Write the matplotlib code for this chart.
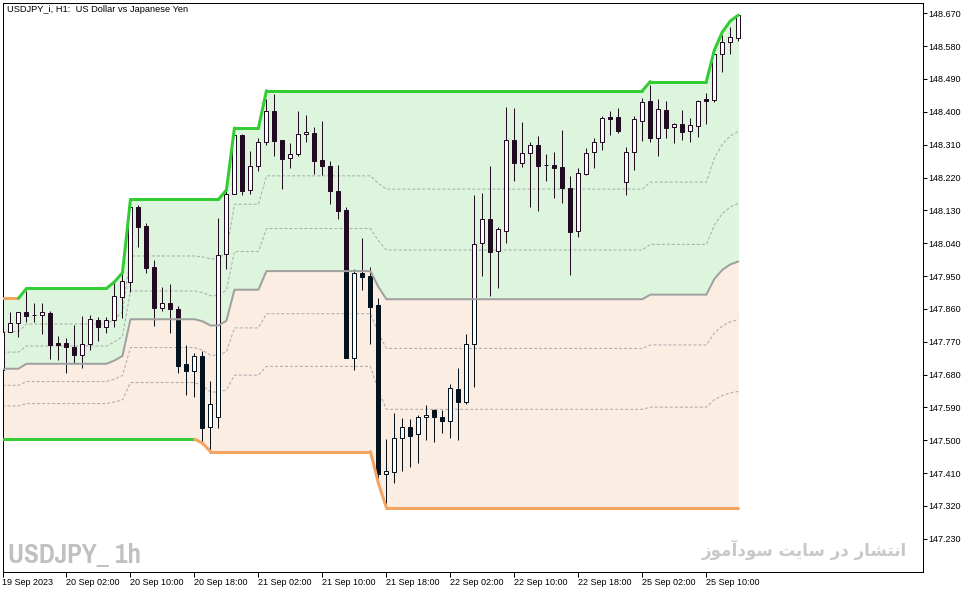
import numpy as np
import matplotlib
matplotlib.use("Agg")
import matplotlib.pyplot as plt
from matplotlib.collections import LineCollection
from matplotlib.patches import Polygon
from matplotlib import font_manager

# ---------------- data ----------------
title = "USDJPY_i, H1:  US Dollar vs Japanese Yen"
watermark = "USDJPY_ 1h"
# Persian text "انتشار در سایت سودآموز" in presentation forms, visual (LTR) order
site_text = "\uFEAF\uFEEE\uFEE3\uFE81\uFEA9\uFEEE\uFEB3 \uFE96\uFEF3\uFE8E\uFEB3 \uFEAD\uFEA9 \uFEAD\uFE8E\uFEB8\uFE98\uFEE7\uFE8D"

x_tick_bars = [0, 8, 16, 24, 32, 40, 48, 56, 64, 72, 80, 88]
x_tick_labels = ["19 Sep 2023", "20 Sep 02:00", "20 Sep 10:00", "20 Sep 18:00",
                 "21 Sep 02:00", "21 Sep 10:00", "21 Sep 18:00", "22 Sep 02:00",
                 "22 Sep 10:00", "22 Sep 18:00", "25 Sep 02:00", "25 Sep 10:00"]
price_ticks = [147.230, 147.320, 147.410, 147.500, 147.590, 147.680, 147.770,
               147.860, 147.950, 148.040, 148.130, 148.220, 148.310, 148.400,
               148.490, 148.580, 148.670]

opens = [147.692, 147.797, 147.821, 147.851, 147.843, 147.842, 147.848, 147.766, 147.766, 147.755,
         147.734, 147.763, 147.829, 147.811, 147.829, 147.892, 147.934, 148.138, 148.087, 147.974,
         147.863, 147.875, 147.860, 147.709, 147.690, 147.731, 147.535, 147.563, 148.010, 148.174,
         148.336, 148.185, 148.251, 148.316, 148.402, 148.323, 148.273, 148.284, 148.338, 148.341,
         148.268, 148.252, 148.183, 148.131, 147.726, 147.957, 147.951, 147.871, 147.407, 147.414,
         147.505, 147.535, 147.516, 147.563, 147.584, 147.563, 147.553, 147.640, 147.606, 147.763,
         148.040, 148.105, 148.019, 148.074, 148.323, 148.261, 148.286, 148.308, 148.253, 148.254,
         148.248, 148.190, 148.074, 148.230, 148.291, 148.316, 148.385, 148.385, 148.208, 148.289,
         148.376, 148.430, 148.329, 148.405, 148.358, 148.367, 148.348, 148.362, 148.434, 148.432,
         148.558, 148.591, 148.603]
highs = [147.802, 147.851, 147.851, 147.910, 147.875, 147.875, 147.854, 147.786, 147.779, 147.817,
         147.840, 147.843, 147.838, 147.838, 147.934, 147.957, 148.145, 148.145, 148.094, 147.994,
         147.921, 147.927, 147.868, 147.761, 147.738, 147.745, 147.662, 148.108, 148.190, 148.340,
         148.340, 148.293, 148.327, 148.435, 148.449, 148.323, 148.314, 148.402, 148.391, 148.359,
         148.375, 148.265, 148.254, 148.138, 147.969, 148.053, 147.976, 147.889, 147.503, 147.574,
         147.560, 147.558, 147.569, 147.597, 147.586, 147.583, 147.653, 147.697, 147.791, 148.172,
         148.177, 148.251, 148.083, 148.412, 148.410, 148.371, 148.318, 148.334, 148.284, 148.289,
         148.350, 148.224, 148.245, 148.300, 148.328, 148.389, 148.402, 148.410, 148.303, 148.389,
         148.439, 148.473, 148.434, 148.430, 148.370, 148.404, 148.382, 148.432, 148.451, 148.569,
         148.611, 148.633, 148.665]
lows = [147.687, 147.797, 147.783, 147.823, 147.823, 147.791, 147.723, 147.720, 147.685, 147.711,
        147.699, 147.747, 147.773, 147.795, 147.811, 147.836, 147.907, 148.030, 147.959, 147.814,
        147.855, 147.795, 147.683, 147.624, 147.618, 147.492, 147.471, 147.533, 147.968, 148.174,
        148.172, 148.176, 148.239, 148.309, 148.280, 148.188, 148.245, 148.280, 148.318, 148.230,
        148.227, 148.147, 148.106, 147.726, 147.692, 147.912, 147.764, 147.382, 147.315, 147.384,
        147.416, 147.427, 147.438, 147.501, 147.496, 147.521, 147.507, 147.501, 147.598, 147.647,
        147.950, 147.895, 147.918, 148.041, 148.210, 148.250, 148.140, 148.129, 148.210, 148.165,
        148.151, 147.953, 148.056, 148.227, 148.247, 148.295, 148.336, 148.343, 148.172, 148.241,
        148.321, 148.318, 148.280, 148.329, 148.314, 148.323, 148.316, 148.332, 148.367, 148.428,
        148.510, 148.558, 148.595]
closes = [147.797, 147.821, 147.851, 147.840, 147.842, 147.851, 147.761, 147.761, 147.755, 147.734,
          147.764, 147.831, 147.811, 147.829, 147.895, 147.936, 148.138, 148.085, 147.973, 147.863,
          147.875, 147.859, 147.704, 147.690, 147.731, 147.534, 147.598, 148.007, 148.174, 148.336,
          148.183, 148.251, 148.316, 148.402, 148.321, 148.271, 148.284, 148.338, 148.344, 148.266,
          148.252, 148.183, 148.129, 147.726, 147.957, 147.948, 147.866, 147.407, 147.416, 147.505,
          147.535, 147.512, 147.563, 147.568, 147.563, 147.553, 147.642, 147.606, 147.763, 148.037,
          148.105, 148.017, 148.078, 148.323, 148.261, 148.286, 148.308, 148.252, 148.253, 148.247,
          148.190, 148.071, 148.231, 148.286, 148.316, 148.382, 148.381, 148.347, 148.289, 148.379,
          148.428, 148.329, 148.407, 148.356, 148.367, 148.346, 148.364, 148.430, 148.430, 148.558,
          148.591, 148.604, 148.665]

# channel lines (read per bar)
upper = ([147.889] * 3 + [147.916] * 11 + [147.934, 147.959] + [148.160] * 12 + [148.186] +
         [148.356] * 4 + [148.458] * 48 + [148.483] * 8 + [148.569, 148.619, 148.649, 148.665])
lower = [147.503] * 25 + [147.492] + [147.469] * 21 + [147.382] + [147.315] * 45
# line colour state per bar: 1 = rising (green), 0 = falling (orange)
upper_dir = [0] * 3 + [1] * 90
lower_dir = [1] * 25 + [0] * 68
fib_levels = [0.236, 0.382, 0.618, 0.764]

# ---------------- style ----------------
GREEN = "#32CD32"
ORANGE = "#F4A460"
FILL_UP = "#DCF5DC"
FILL_DN = "#FCEDE3"
DARK_UP = "#230A23"
DARK_DN = "#03121C"
MID_C = "#A0A0A0"
DASH_C = "#AAAAAA"
PX = 0.72  # one pixel in points at 100 dpi

plt.rcParams['font.family'] = ['Liberation Sans', 'DejaVu Sans']

# look for an installed condensed / narrow bold face for the watermark
wm_prop = None
cands = []
for fe in font_manager.fontManager.ttflist:
    nm = (fe.name + " " + str(fe.fname)).lower()
    if ("condensed" in nm or "narrow" in nm or str(fe.stretch) in ("condensed", "semi-condensed", "extra-condensed")) \
            and ("bold" in nm or (isinstance(fe.weight, int) and fe.weight >= 700) or fe.weight == "bold"):
        if "italic" in nm or "oblique" in nm or fe.style != "normal":
            continue
        cands.append(fe.fname)
if cands:
    pref = sorted(cands, key=lambda f: (0 if "narrow" in f.lower() else 1 if "dejavu" in f.lower() else 2, len(f)))
    wm_prop = font_manager.FontProperties(fname=pref[0], size=22)
    wm_size = 22
else:
    wm_prop = font_manager.FontProperties(family=['Liberation Sans', 'DejaVu Sans'], weight='bold', size=17)

W, H = 976, 593
fig = plt.figure(figsize=(W / 100, H / 100), dpi=100)
fig.patch.set_facecolor("white")
ax_l, ax_r, ax_t, ax_b = 2.5, 922.5, 2.5, 572.0
ax = fig.add_axes([ax_l / W, (H - ax_b) / H, (ax_r - ax_l) / W, (ax_b - ax_t) / H])
ax.set_facecolor("white")

n = len(opens)
xs = np.arange(n)
o = np.array(opens); h = np.array(highs); l = np.array(lows); c = np.array(closes)
up = np.array(upper); lo = np.array(lower)
mid = (up + lo) / 2.0

ax.set_xlim(0.025, 115.025)
ax.set_ylim(147.1389, 148.6996)

# fills
ax.fill_between(xs, mid, up, color=FILL_UP, lw=0, zorder=1)
ax.fill_between(xs, lo, mid, color=FILL_DN, lw=0, zorder=1)

# dashed fib levels
for f in fib_levels:
    ax.plot(xs, up - f * (up - lo), color=DASH_C, lw=PX, ls=(0, (3, 2)), zorder=2)

# clip polygons (above / below mid line)
ext_x = np.r_[-2, xs, n + 1]
ext_mid = np.r_[mid[0], mid, mid[-1]]
top_verts = np.column_stack([np.r_[ext_x, n + 1, -2], np.r_[ext_mid, 150.0, 150.0]])
bot_verts = np.column_stack([np.r_[ext_x, n + 1, -2], np.r_[ext_mid, 146.0, 146.0]])
clip_top = Polygon(top_verts, closed=True, transform=ax.transData)
clip_bot = Polygon(bot_verts, closed=True, transform=ax.transData)

bull = c >= o
body_bottom = np.minimum(o, c)
body_height = np.abs(c - o)

for dark, clip in ((DARK_UP, clip_top), (DARK_DN, clip_bot)):
    wk = ax.vlines(xs, l, h, colors=dark, lw=PX, zorder=3)
    wk.set_clip_path(clip)
    faces = ["white" if b else dark for b in bull]
    bars = ax.bar(xs, body_height, bottom=body_bottom, width=0.5, color=faces,
                  edgecolor=dark, lw=PX, zorder=3.5)
    for p in bars.patches:
        p.set_clip_path(clip)

# mid line
ax.plot(xs, mid, color=MID_C, lw=2 * PX, zorder=4, solid_capstyle='round')

# channel lines with direction colours
def colored_line(vals, dirs):
    segs = [[(i - 1, vals[i - 1]), (i, vals[i])] for i in range(1, n)]
    cols = [GREEN if dirs[i] else ORANGE for i in range(1, n)]
    lc = LineCollection(segs, colors=cols, linewidths=3 * PX, capstyle='round',
                        joinstyle='round', zorder=5)
    ax.add_collection(lc)

colored_line(upper, upper_dir)
colored_line(lower, lower_dir)

# axes styling
for s in ax.spines.values():
    s.set_color("black")
    s.set_linewidth(PX)
ax.yaxis.tick_right()
ax.set_yticks(price_ticks)
ax.set_yticklabels([f"{v:.3f}" for v in price_ticks])
ax.set_xticks(x_tick_bars)
ax.set_xticklabels(x_tick_labels, ha='left')
ax.tick_params(axis='y', direction='out', length=4 * PX, width=PX, pad=1.5,
               labelsize=6.5, colors='black')
ax.tick_params(axis='x', direction='out', length=5 * PX, width=PX, pad=0.5,
               labelsize=6.5, colors='black')
ax.tick_params(axis='y', left=False, labelleft=False)

# texts
fig.text(7 / W, 1 - 10 / H, title, fontsize=6.7, va='center', ha='left', color='black')
wm = fig.text(8 / W, 1 - 563 / H, watermark, fontproperties=wm_prop,
              color="#C0C0C0", va='baseline', ha='left')
fig.text(907 / W, 1 - 556 / H, site_text, fontsize=12, fontweight='bold',
         family=['DejaVu Sans'], color="#C8C8C8", va='baseline', ha='right')

# fit the watermark width to the reference (about 133 px wide)
fig.canvas.draw()
bb = wm.get_window_extent()
if bb.width > 0:
    scale = 133.0 / bb.width
    wm_prop.set_size(wm_prop.get_size() * scale)
    wm.set_fontproperties(wm_prop)

fig.savefig("out.png", dpi=100)
